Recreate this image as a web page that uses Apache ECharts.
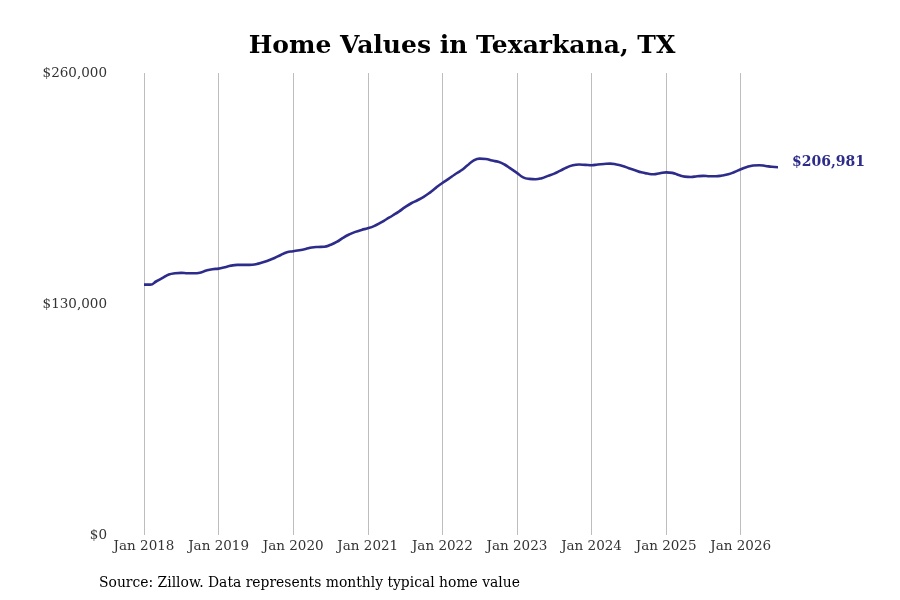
<!DOCTYPE html>
<html>
<head>
<meta charset="utf-8">
<script src="https://cdn.jsdelivr.net/npm/echarts@6/dist/echarts.min.js"></script>
<style>
  html, body { margin: 0; padding: 0; background: #fff; }
  #chart { width: 900px; height: 600px; }
</style>
</head>
<body>
<div id="chart"></div>
<script>
// monthly typical home value, Jan 2018 .. Jul 2026
var months = [];
var years = [2018, 2019, 2020, 2021, 2022, 2023, 2024, 2025, 2026];
var monthNames = ['Jan', 'Feb', 'Mar', 'Apr', 'May', 'Jun', 'Jul', 'Aug', 'Sep', 'Oct', 'Nov', 'Dec'];
years.forEach(function (y) {
  monthNames.forEach(function (m) { months.push(m + ' ' + y); });
});
months = months.slice(0, 103);

var homeValues = [
  140900, 140900, 142800, 144700, 146600, 147300, 147500, 147300, 147300, 147600, 148800, 149600,
  149900, 150700, 151600, 152000, 152000, 152000, 152400, 153300, 154500, 155900, 157600, 159100,
  159700, 160300, 161000, 161800, 162100, 162200, 163300, 164900, 167200, 169100, 170600, 171700,
  172600, 173800, 175600, 177700, 179800, 182000, 184500, 186700, 188400, 190300, 192700, 195500,
  198100, 200400, 202900, 205100, 207900, 210700, 211800, 211600, 210700, 210000, 208500, 206200,
  203800, 201300, 200400, 200200, 200800, 202100, 203400, 205100, 206800, 208100, 208500, 208300,
  208100, 208500, 208800, 209000, 208500, 207700, 206400, 205300, 204100, 203400, 203000, 203600,
  204100, 203800, 202600, 201700, 201500, 201900, 202100, 201900, 201900, 202300, 203000, 204300,
  205800, 207100, 207900, 208100, 207700, 207200, 206981
];

var lineColor = '#2e2c8a';
var serif = '"DejaVu Serif", serif';

var chart = echarts.init(document.getElementById('chart'));

var option = {
  animation: false,
  title: {
    text: 'Home Values in Texarkana, TX',
    left: 457,
    textAlign: 'center',
    top: 29,
    textStyle: { fontFamily: serif, fontSize: 25, fontWeight: 'bold', color: '#000' }
  },
  grid: { left: 144, right: 122, top: 73, bottom: 65 },
  xAxis: {
    type: 'category',
    data: months,
    boundaryGap: false,
    axisLine: { show: false },
    axisTick: { show: false },
    axisLabel: {
      interval: function (i) { return i % 12 === 0; },
      fontFamily: serif,
      fontSize: 13.5,
      color: '#333',
      margin: 4
    },
    splitLine: {
      show: true,
      interval: function (i) { return i % 12 === 0; },
      lineStyle: { color: '#bdbdbd', width: 1 }
    }
  },
  yAxis: {
    type: 'value',
    min: 0,
    max: 260000,
    interval: 130000,
    axisLine: { show: false },
    axisTick: { show: false },
    splitLine: { show: false },
    axisLabel: {
      formatter: function (v) { return '$' + v.toLocaleString('en-US'); },
      fontFamily: serif,
      fontSize: 13.5,
      color: '#333',
      margin: 37
    }
  },
  series: [{
    type: 'line',
    data: homeValues,
    smooth: true,
    symbol: 'none',
    lineStyle: { color: lineColor, width: 2.6 },
    endLabel: {
      show: true,
      formatter: '$206,981',
      color: lineColor,
      fontFamily: serif,
      fontWeight: 'bold',
      fontSize: 14,
      distance: 14,
      offset: [0, -5]
    }
  }],
  graphic: [{
    type: 'text',
    left: 99,
    top: 576,
    style: {
      text: 'Source: Zillow. Data represents monthly typical home value',
      fontFamily: serif,
      fontSize: 13.9,
      fill: '#000'
    }
  }]
};

chart.setOption(option);
</script>
</body>
</html>
